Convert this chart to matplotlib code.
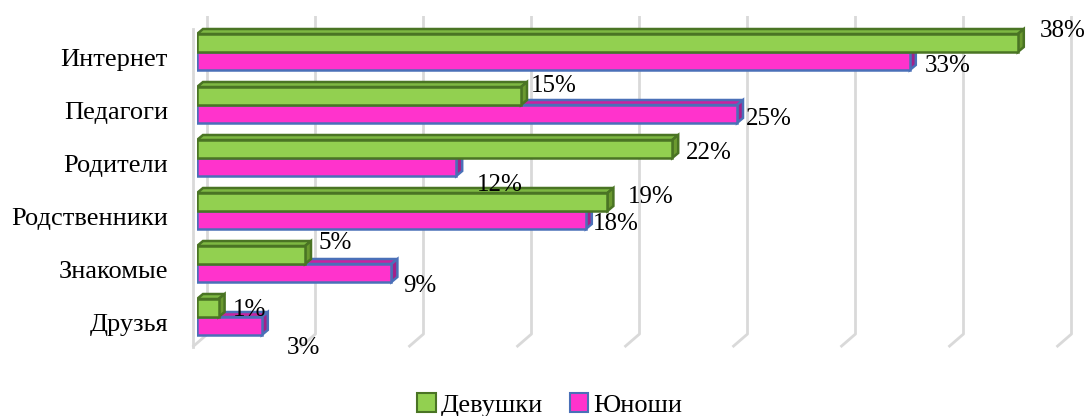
import numpy as np
import matplotlib.pyplot as plt
from matplotlib.patches import Polygon, Rectangle

# --- data ---
categories = ['Интернет', 'Педагоги', 'Родители', 'Родственники', 'Знакомые', 'Друзья']
girls = [38, 15, 22, 19, 5, 1]
boys = [33, 25, 12, 18, 9, 3]
series_names = ['Девушки', 'Юноши']
x_ticks = [0, 5, 10, 15, 20, 25, 30, 35, 40]

# label nudges in pixels (right, down) from bar end / bar middle
girls_nudge = [(22, -15), (10, -13), (14, 1), (20, -8), (14, -15), (14, 0)]
boys_nudge = [(15, 2), (9, 2), (21, 15), (7, 1), (12, 11), (25, 19)]

plt.rcParams['font.family'] = ['Liberation Serif', 'DejaVu Serif']

W, H = 1084, 416
fig = plt.figure(figsize=(W / 100, H / 100), dpi=100)

# layout in pixels
x0_px, scale_px = 197, 21.6      # x position of 0 and px per percent
top_px, bot_px = 16, 347
cat0_px, cat_step = 52, 53
xmax = 40

ax = fig.add_axes([x0_px / W, 1 - bot_px / H, xmax * scale_px / W, (bot_px - top_px) / H])
ax.set_xlim(0, xmax)
ax.set_ylim((bot_px - cat0_px) / cat_step, (top_px - cat0_px) / cat_step)
ax.axis('off')

def px_x(p):
    return p / scale_px

def px_y(p):
    return p / cat_step

y_top_lim = ax.get_ylim()[1]
y_bot_lim = ax.get_ylim()[0]

# back wall gridlines with floor diagonal (3D look)
grid_col = '#D9D9D9'
for t in x_ticks:
    xb = t + px_x(10.5)
    xf = xb - px_x(15)
    ax.plot([xb, xb, xf], [y_top_lim, y_bot_lim - px_y(13), y_bot_lim],
            color=grid_col, lw=2, clip_on=False, zorder=1, solid_capstyle='butt')
# left wall front edge
xl = x_ticks[0] + px_x(10.5) - px_x(15)
ax.plot([xl, xl], [y_top_lim + px_y(13), y_bot_lim], color=grid_col, lw=2,
        clip_on=False, zorder=1)

h = 18 / cat_step
ddx, ddy = px_x(6), px_y(5)
y = np.arange(len(categories))

def faces(vals, ys, top_c, side_c, edge_c, z):
    for v, yc in zip(vals, ys):
        yt, yb = yc - h / 2, yc + h / 2
        top = [(0, yt), (v, yt), (v + ddx, yt - ddy), (ddx, yt - ddy)]
        side = [(v, yt), (v + ddx, yt - ddy), (v + ddx, yb - ddy), (v, yb)]
        ax.add_patch(Polygon(top, closed=True, fc=top_c, ec=edge_c, lw=1.8, zorder=z,
                             joinstyle='miter'))
        ax.add_patch(Polygon(side, closed=True, fc=side_c, ec=edge_c, lw=1.8, zorder=z,
                             joinstyle='miter'))

g_front, g_top, g_side, g_edge = '#92D050', '#7DB842', '#6B9A30', '#4A7424'
p_front, p_top, p_side, p_edge = '#FF33CC', '#C8239F', '#A3218A', '#4A70B8'

ys_g = y - h / 2
ys_p = y + h / 2

faces(boys, ys_p, p_top, p_side, p_edge, 3)
ax.barh(ys_p, boys, height=h, color=p_front, edgecolor=p_edge, lw=1.8, zorder=4)
faces(girls, ys_g, g_top, g_side, g_edge, 5)
ax.barh(ys_g, girls, height=h, color=g_front, edgecolor=g_edge, lw=1.8, zorder=6)

# value labels
for vals, ys, nudges in [(girls, ys_g, girls_nudge), (boys, ys_p, boys_nudge)]:
    for v, yc, (nx, ny) in zip(vals, ys, nudges):
        ax.annotate(f'{v}%', xy=(v, yc), xytext=(nx, -(ny + 8.5)), textcoords='offset pixels',
                    ha='left', va='baseline', fontsize=18, color='black', zorder=10)

# category labels
for i, name in enumerate(categories):
    ax.annotate(name, xy=(0, y[i]), xytext=(-29, -(4.5 + 9)), textcoords='offset pixels',
                ha='right', va='baseline', fontsize=19, color='black')

handles = [Rectangle((0, 0), 1, 1, fc=g_front, ec=g_edge, lw=1.5),
           Rectangle((0, 0), 1, 1, fc=p_front, ec=p_edge, lw=1.5)]
fig.legend(handles, series_names, loc='center', bbox_to_anchor=(550 / W, 1 - 405 / H),
           ncol=2, frameon=False, fontsize=19, handlelength=0.7, handleheight=0.7,
           handletextpad=0.2, columnspacing=1.0)

fig.savefig('out.png', dpi=100)
